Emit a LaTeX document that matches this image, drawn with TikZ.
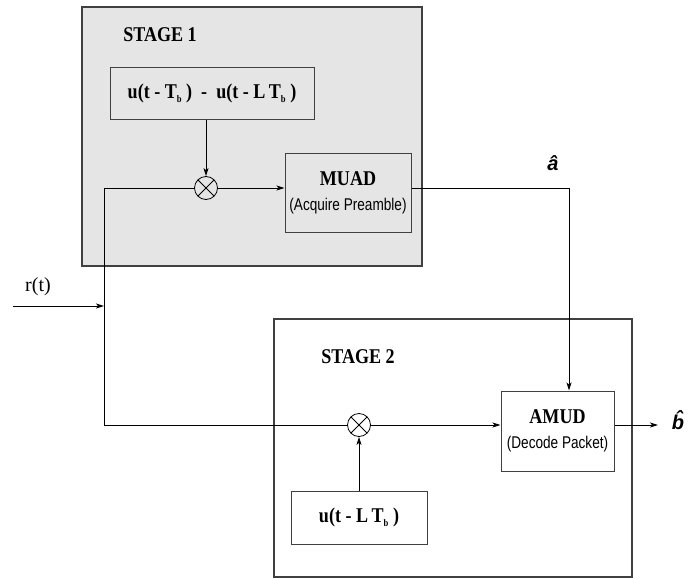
\documentclass[tikz,border=0pt]{standalone}
\usepackage{fontspec}
\setmainfont{Liberation Serif}
\setsansfont{Liberation Sans}
\newfontfamily\stagefont[FakeStretch=0.86]{Liberation Serif}
\newfontfamily\notefont[FakeStretch=0.8]{Liberation Sans}
\usetikzlibrary{arrows.meta}
\definecolor{stagegray}{HTML}{E5E5E5}
\definecolor{edgegray}{HTML}{404040}
\newcommand{\subb}{\raisebox{-4pt}{\fontsize{10}{10}\selectfont b}}

\tikzset{
  stagebox/.style={draw=edgegray,line width=1.6pt},
  block/.style={draw=edgegray,line width=1pt,inner sep=0pt},
  boldlbl/.style={font=\stagefont\bfseries\fontsize{21}{24}\selectfont},
  mixer/.style={circle,draw,line width=0.8pt,minimum size=23pt,inner sep=0pt,
    path picture={\draw[line width=0.8pt]
      (path picture bounding box.south west) -- (path picture bounding box.north east)
      (path picture bounding box.north west) -- (path picture bounding box.south east);}},
  wire/.style={line width=0.9pt},
  sig/.style={wire,-{Stealth[length=8pt,width=5pt,inset=2pt]}},
}

\begin{document}
\begin{tikzpicture}[x=1pt,y=-1pt]
  \useasboundingbox (0,0) rectangle (700,578);
  % stage 1
  \node[stagebox,fill=stagegray,minimum width=340pt,minimum height=259pt] (stage1) at (252,136.5) {};
  \node[boldlbl] (stage1lbl) at (160,35) {STAGE 1};
  \node[block,boldlbl,minimum width=204pt,minimum height=52pt] (window) at (212,93)
    {u(t - T\subb\ )\ \ -\ \ u(t - L\,T\subb\ )};
  \node[mixer] (mix1) at (206,188) {};
  \node[block,boldlbl,align=center,minimum width=126pt,minimum height=79pt] (muad) at (348,192.5)
    {MUAD\\[1pt]{\notefont\mdseries\fontsize{17}{20}\selectfont (Acquire Preamble)}};
  % stage 2
  \node[stagebox,minimum width=358pt,minimum height=258pt] (stage2) at (453,448) {};
  \node[boldlbl] (stage2lbl) at (358,357) {STAGE 2};
  \node[mixer] (mix2) at (359,425) {};
  \node[block,boldlbl,align=center,minimum width=113pt,minimum height=80pt] (amud) at (557.5,431)
    {AMUD\\[1pt]{\notefont\mdseries\fontsize{17}{20}\selectfont (Decode Packet)}};
  \node[block,boldlbl,minimum width=136pt,minimum height=53pt] (delay) at (359,517.5)
    {u(t - L\,T\subb\ )};
  % signals
  \node[font=\fontsize{20}{24}\selectfont] (rin) at (38,287) {r(t)};
  \node[font=\sffamily\bfseries\itshape\fontsize{20}{24}\selectfont] (ahat) at (553,163) {\^a};
  \node[font=\sffamily\bfseries\itshape\fontsize{20}{24}\selectfont] (bhat) at (678,420) {\^b};
  \coordinate (start) at (13,306);
  \coordinate (tap) at (104,306);
  \coordinate (ttop) at (104,188);
  \coordinate (tbot) at (104,425);
  \coordinate (aturn) at (569,188);
  \coordinate (bout) at (658,425);

  \draw[sig] (start) -- (tap);
  \draw[wire] (mix1) -- (ttop) -- (tbot) -- (mix2);
  \draw[sig] (window.south -| mix1) -- (mix1);
  \draw[sig] (mix1) -- (mix1 -| muad.west);
  \draw[sig] (muad.east |- mix1) -- (aturn) -- (aturn |- amud.north);
  \draw[sig] (mix2) -- (mix2 -| amud.west);
  \draw[sig] (delay) -- (mix2);
  \draw[sig] (amud.east |- mix2) -- (bout);
\end{tikzpicture}
\end{document}
